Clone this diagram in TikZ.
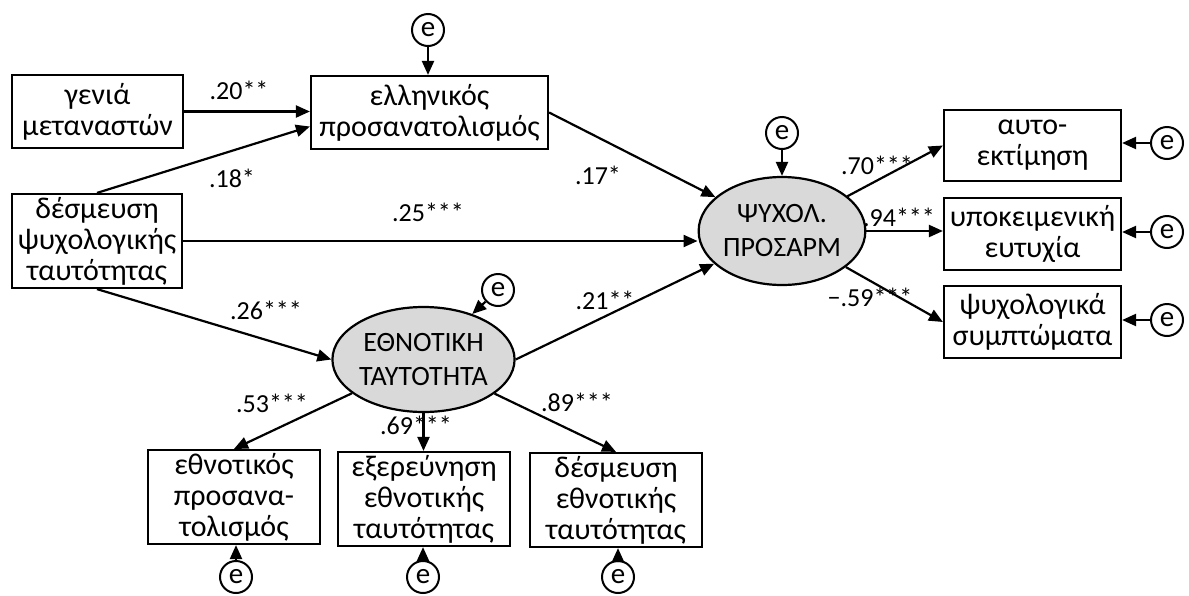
\documentclass[tikz,border=0pt]{standalone}
\usepackage{fontspec}
\setmainfont{Carlito}
\usetikzlibrary{arrows.meta,calc,shapes.geometric}
\definecolor{latfill}{HTML}{D9D9D9}
\begin{document}
\begin{tikzpicture}[x=1pt,y=-1pt,
  box/.style={draw,line width=2.2pt,align=center,inner sep=0pt,font=\fontsize{30}{31}\selectfont},
  lat/.style={draw,ellipse,line width=2.2pt,fill=latfill,align=center,inner sep=0pt,font=\fontsize{28}{34}\selectfont},
  err/.style={draw,circle,line width=2pt,minimum size=32pt,inner sep=0pt,font=\fontsize{29}{29}\selectfont},
  lbl/.style={inner sep=0pt,font=\fontsize{26}{26}\selectfont},
  arr/.style={line width=2.2pt,-{Triangle[length=14pt,width=12pt]}}]
\useasboundingbox[fill=white] (0,0) rectangle (1189,595);
% boxes
\node[box,minimum width=171pt,minimum height=73pt] (gen) at (97.5,111.5) {γενιά\\μεταναστών};
\node[box,minimum width=237pt,minimum height=73pt] (ell) at (429.5,112.5) {ελληνικός\\προσανατολισμός};
\node[box,minimum width=170pt,minimum height=94pt] (des) at (97,241) {δέσμευση\\ψυχολογικής\\ταυτότητας};
\node[box,minimum width=177pt,minimum height=71pt] (auto) at (1032.5,145.5) {αυτο-\\εκτίμηση};
\node[box,minimum width=177pt,minimum height=72pt] (ypo) at (1032.5,234) {υποκειμενική\\ευτυχία};
\node[box,minimum width=177pt,minimum height=72pt] (psy) at (1032.5,322) {ψυχολογικά\\συμπτώματα};
\node[box,minimum width=172pt,minimum height=94pt] (ethor) at (234,497) {εθνοτικός\\προσανα-\\τολισμός};
\node[box,minimum width=172pt,minimum height=94pt] (exer) at (424,499) {εξερεύνηση\\εθνοτικής\\ταυτότητας};
\node[box,minimum width=172pt,minimum height=94pt] (desm) at (616,500) {δέσμευση\\εθνοτικής\\ταυτότητας};
% latent
\node[lat,minimum width=146pt,minimum height=108pt] (psych) at (782,231) {ΨΥΧΟΛ.\\ΠΡΟΣΑΡΜ};
\node[lat,minimum width=153pt,minimum height=105pt] (eth) at (423.5,359.5) {ΕΘΝΟΤΙΚΗ\\ΤΑΥΤΟΤΗΤΑ};
% errors
\node[err] (e1) at (428,30) {e};
\node[err] (e2) at (782,133) {e};
\node[err] (e3) at (498,290) {e};
\node[err] (ea) at (1167,143) {e};
\node[err] (eb) at (1167,232) {e};
\node[err] (ec) at (1167,320) {e};
\node[err] (ed) at (236,577) {e};
\node[err] (ee) at (423,577) {e};
\node[err] (ef) at (618,577) {e};
% paths
\draw[arr] (gen.east) -- (ell.west |- gen.east);
\draw[arr] (des.north) -- ($(ell.west)+(0,14)$);
\draw[arr] (ell.east) -- (psych);
\draw[arr] (des.east) -- (des.east -| psych.west);
\draw[arr] (des.south) -- (eth.west);
\draw[arr] (eth.east) -- (psych);
\draw[arr] (e1.south) -- (e1.south |- ell.north);
\draw[arr] (e2) -- (psych);
\draw[arr] (e3) -- (eth);
\draw[arr] (psych) -- (auto.west);
\draw[arr] (psych.east) -- (psych.east -| ypo.west);
\draw[arr] (psych) -- (psy.west);
\draw[arr] (eth) -- (ethor.north);
\draw[arr] (eth.south) -- (eth.south |- exer.north);
\draw[arr] (eth) -- (desm.north);
\draw[arr] (ea.west) -- (ea.west -| auto.east);
\draw[arr] (eb.west) -- (eb.west -| ypo.east);
\draw[arr] (ec.west) -- (ec.west -| psy.east);
\draw[arr] (ed.north) -- (ed.north |- ethor.south);
\draw[arr] (ee.north) -- (ee.north |- exer.south);
\draw[arr] (ef.north) -- (ef.north |- desm.south);
% labels
\node[lbl] (l1) at (239,90) {.20**};
\node[lbl] (l2) at (232,178) {.18*};
\node[lbl] (l3) at (428,212) {.25***};
\node[lbl] (l4) at (598,175) {.17*};
\node[lbl] (l5) at (266,310) {.26***};
\node[lbl] (l6) at (605,300) {.21**};
\node[lbl] (l7) at (272,403) {.53***};
\node[lbl] (l8) at (416,425) {.69***};
\node[lbl] (l9) at (577,402) {.89***};
\node[lbl] (l10) at (877,165) {.70***};
\node[lbl] (l11) at (899,217) {.94***};
\node[lbl] (l12) at (870,297) {−.59***};
\end{tikzpicture}
\end{document}
